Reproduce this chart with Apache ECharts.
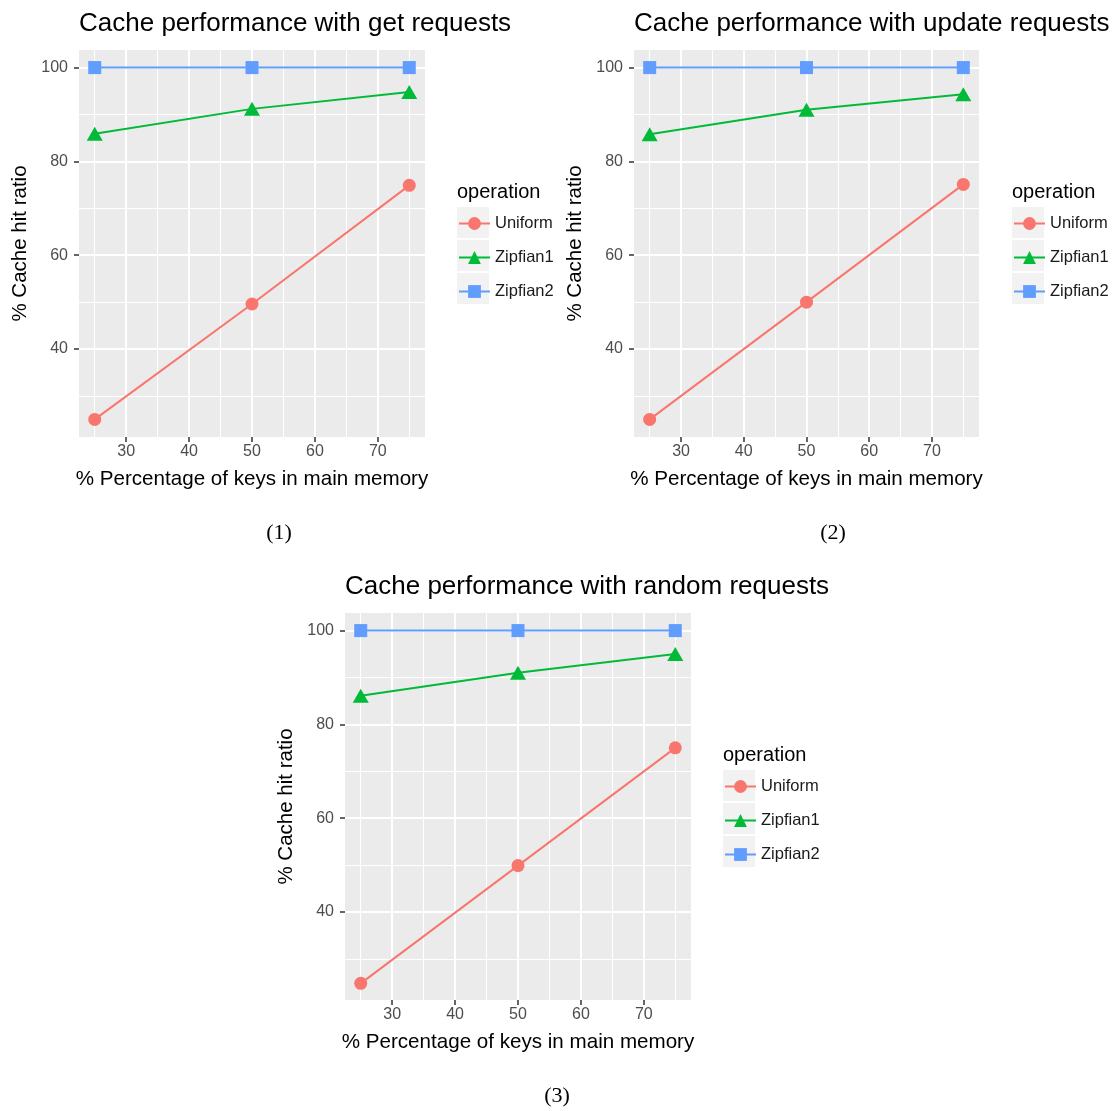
<!DOCTYPE html>
<html>
<head>
<meta charset="utf-8">
<script src="https://cdn.jsdelivr.net/npm/echarts@6/dist/echarts.min.js"></script>
<style>
  html, body { margin: 0; padding: 0; background: #fff; }
  #chart { width: 1118px; height: 1111px; }
</style>
</head>
<body>
<div id="chart"></div>
<script>
// data
const keyShare = [25, 50, 75]
const operations = ['Uniform', 'Zipfian1', 'Zipfian2']
const xTicks = [30, 40, 50, 60, 70]
const xMinorTicks = [25, 35, 45, 55, 65, 75]
const yTicks = [40, 60, 80, 100]
const yMinorTicks = [30, 50, 70, 90]

const getUniform = [25, 49.6, 74.9]
const getZipfian1 = [85.9, 91.2, 94.8]
const getZipfian2 = [100, 100, 100]

const updateUniform = [25, 50, 75.1]
const updateZipfian1 = [85.8, 91, 94.3]
const updateZipfian2 = [100, 100, 100]

const randomUniform = [24.8, 49.9, 75]
const randomZipfian1 = [86.1, 91, 95]
const randomZipfian2 = [100, 100, 100]

const colors = ['#F8766D', '#00BA38', '#619CFF']
const symbols = ['circle', 'triangle', 'rect']
const symbolSizes = [13, [16, 14], 13]
const sans = 'Liberation Sans, Arial, sans-serif'

// layout of each panel: plot rect, legend corner, caption centre
const panels = [
  {
    title: 'Cache performance with get requests',
    caption: '(1)',
    values: [getUniform, getZipfian1, getZipfian2],
    grid: { left: 79, top: 50, width: 346, height: 387 },
    legend: { left: 458, top: 207 },
    captionPos: { x: 279, y: 522 },
  },
  {
    title: 'Cache performance with update requests',
    caption: '(2)',
    values: [updateUniform, updateZipfian1, updateZipfian2],
    grid: { left: 634, top: 50, width: 345, height: 387 },
    legend: { left: 1013, top: 207 },
    captionPos: { x: 833, y: 522 },
  },
  {
    title: 'Cache performance with random requests',
    caption: '(3)',
    values: [randomUniform, randomZipfian1, randomZipfian2],
    grid: { left: 345, top: 613, width: 346, height: 387 },
    legend: { left: 724, top: 770 },
    captionPos: { x: 557, y: 1085 },
  },
]

const grids = []
const xAxes = []
const yAxes = []
const series = []
const legends = []
const titles = []
const graphics = []

panels.forEach((p, i) => {
  grids.push({
    ...p.grid,
    show: true,
    backgroundColor: '#EBEBEB',
    borderWidth: 0,
    containLabel: false,
    outerBoundsMode: 'none',
  })

  // major axes: ticks, labels, thick grid lines
  xAxes.push({
    gridIndex: i,
    type: 'value',
    min: 22.5,
    max: 77.5,
    position: 'bottom',
    name: '% Percentage of keys in main memory',
    nameLocation: 'middle',
    nameGap: 32,
    nameTextStyle: { fontFamily: sans, fontSize: 20.6, color: '#000' },
    axisLine: { show: false },
    axisTick: { show: true, length: 5, customValues: xTicks, lineStyle: { color: '#333333', width: 1.5 } },
    axisLabel: { customValues: xTicks, color: '#4D4D4D', fontFamily: sans, fontSize: 16, margin: 7 },
    splitLine: { show: true, lineStyle: { color: '#FFFFFF', width: 2 } },
  })
  // minor axes: only the thin grid lines
  xAxes.push({
    gridIndex: i,
    type: 'value',
    min: 22.5,
    max: 77.5,
    position: 'bottom',
    axisLine: { show: false },
    axisTick: { show: false, customValues: xMinorTicks },
    axisLabel: { show: false },
    splitLine: { show: true, lineStyle: { color: '#FFFFFF', width: 1 } },
  })

  yAxes.push({
    gridIndex: i,
    type: 'value',
    min: 21.25,
    max: 103.75,
    position: 'left',
    name: '% Cache hit ratio',
    nameLocation: 'middle',
    nameGap: 48,
    nameTextStyle: { fontFamily: sans, fontSize: 20.5, color: '#000' },
    axisLine: { show: false },
    axisTick: { show: true, length: 5, customValues: yTicks, lineStyle: { color: '#333333', width: 1.5 } },
    axisLabel: { customValues: yTicks, color: '#4D4D4D', fontFamily: sans, fontSize: 16, margin: 11 },
    splitLine: { show: true, lineStyle: { color: '#FFFFFF', width: 2 } },
  })
  yAxes.push({
    gridIndex: i,
    type: 'value',
    min: 21.25,
    max: 103.75,
    position: 'left',
    axisLine: { show: false },
    axisTick: { show: false, customValues: yMinorTicks },
    axisLabel: { show: false },
    splitLine: { show: true, lineStyle: { color: '#FFFFFF', width: 1 } },
  })

  operations.forEach((name, k) => {
    series.push({
      name: name,
      type: 'line',
      xAxisIndex: 2 * i,
      yAxisIndex: 2 * i,
      data: keyShare.map((x, j) => [x, p.values[k][j]]),
      symbol: symbols[k],
      symbolSize: symbolSizes[k],
      showAllSymbol: true,
      color: colors[k],
      itemStyle: { color: colors[k] },
      lineStyle: { color: colors[k], width: 2 },
      z: 3 + k,
      animation: false,
    })
  })

  legends.push({
    left: p.legend.left,
    top: p.legend.top + 8,
    orient: 'vertical',
    padding: 0,
    itemWidth: 31,
    itemHeight: 16,
    itemGap: 17,
    selectedMode: false,
    data: operations,
    textStyle: { fontFamily: sans, fontSize: 16.5, lineHeight: 16, color: '#1A1A1A' },
  })

  // grey key boxes behind the legend symbols
  operations.forEach((name, k) => {
    graphics.push({
      type: 'rect',
      shape: { x: p.legend.left - 1, y: p.legend.top + k * 33, width: 32, height: 31 },
      style: { fill: '#F2F2F2' },
      z: 0,
    })
  })

  titles.push({
    text: p.title,
    left: p.grid.left,
    top: p.grid.top - 39,
    padding: 0,
    textStyle: { fontFamily: sans, fontSize: 26, fontWeight: 'normal', color: '#000' },
  })
  titles.push({
    text: 'operation',
    left: p.legend.left - 1,
    top: p.legend.top - 25,
    padding: 0,
    textStyle: { fontFamily: sans, fontSize: 20, fontWeight: 'normal', color: '#000' },
  })
  titles.push({
    text: p.caption,
    left: p.captionPos.x,
    top: p.captionPos.y,
    textAlign: 'center',
    padding: 0,
    textStyle: { fontFamily: 'Liberation Serif, serif', fontSize: 22, fontWeight: 'normal', color: '#000' },
  })
})

const option = {
  backgroundColor: '#FFFFFF',
  animation: false,
  title: titles,
  grid: grids,
  xAxis: xAxes,
  yAxis: yAxes,
  legend: legends,
  series: series,
  graphic: { elements: graphics },
}

const chart = echarts.init(document.getElementById('chart'), null, { renderer: 'canvas' })
chart.setOption(option)
</script>
</body>
</html>
